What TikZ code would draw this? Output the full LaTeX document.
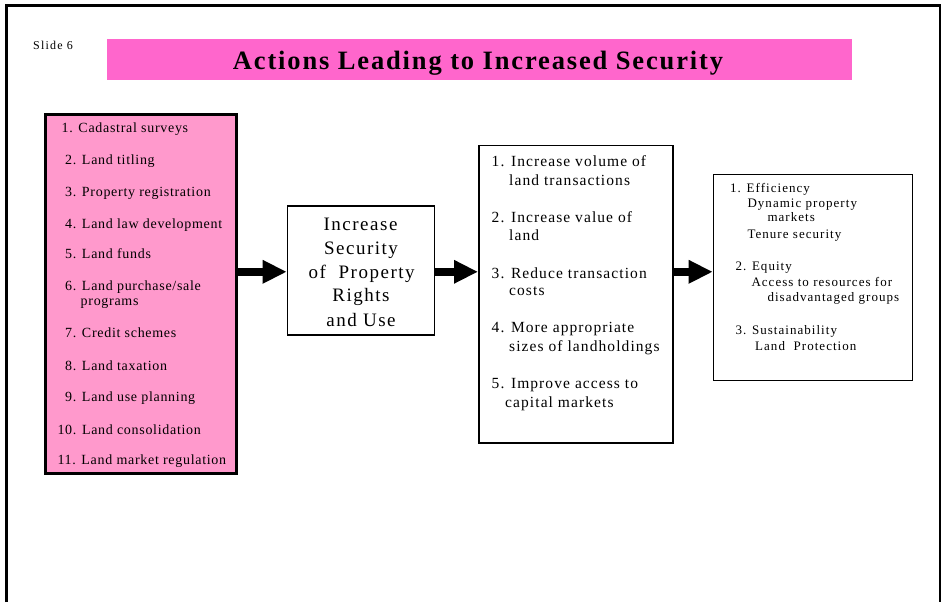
\documentclass[tikz,border=0pt]{standalone}
\usepackage{fontspec}
\setmainfont{Liberation Serif}
\newfontfamily\lsfont[LetterSpace=5]{Liberation Serif}
\newfontfamily\lsBfont[LetterSpace=7]{Liberation Serif}
\newfontfamily\lsCfont[LetterSpace=8]{Liberation Serif}
\newfontfamily\slidefont[LetterSpace=10]{Liberation Serif}
\newfontfamily\titlefont[LetterSpace=7]{Liberation Serif}
\usetikzlibrary{arrows.meta}
\definecolor{titlepink}{HTML}{FF66CC}
\definecolor{boxpink}{HTML}{FF99CC}
\tikzset{
  box/.style={draw=black, line width=1.6pt, fill=white, inner sep=0pt},
  listbox/.style={draw=black, line width=3.5pt, fill=boxpink, inner sep=0pt},
  bigarrow/.style={line width=8pt, -{Triangle[length=24pt,width=22pt]}},
  itemA/.style={inner sep=0pt, anchor=base west, font=\lsfont\fontsize{14}{16}\selectfont},
  itemB/.style={inner sep=0pt, anchor=base west, font=\lsBfont\fontsize{15.5}{17}\selectfont},
  itemC/.style={inner sep=0pt, anchor=base west, font=\lsCfont\fontsize{13}{15}\selectfont},
  midtxt/.style={inner sep=0pt, anchor=base, font=\lsCfont\fontsize{19}{21}\selectfont},
}
\begin{document}
\begin{tikzpicture}[x=1pt,y=-1pt]
\useasboundingbox (0,0) rectangle (941,602);
\fill[white] (0,0) rectangle (941,602);
% outer frame
\draw[line width=3pt] (6,602) -- (6,6) -- (940,6) -- (940,602);
% title
\node[fill=titlepink, minimum width=745pt, minimum height=41pt, inner sep=0pt] (bar) at (479.5,59.5) {};
\node[inner sep=0pt, anchor=base, font=\titlefont\fontsize{26.5}{28}\selectfont\bfseries] (title) at (478,69.5) {Actions Leading to Increased Security};
\node[inner sep=0pt, anchor=base west, font=\slidefont\fontsize{12}{14}\selectfont] (slide) at (33,49.5) {Slide 6};
% boxes
\node[listbox, minimum width=191pt, minimum height=359pt] (acts) at (141,293.8) {};
\node[box, minimum width=147pt, minimum height=129pt] (mid) at (361,270.7) {};
\node[box, minimum width=194pt, minimum height=297.5pt] (outc) at (575.8,294.3) {};
\node[box, minimum width=199pt, minimum height=206pt] (goal) at (813,277.5) {};
% arrows
\draw[bigarrow] (acts.east |- 0,271.8) -- (mid.west |- 0,271.8);
\draw[bigarrow] (mid.east |- 0,271.8) -- (outc.west |- 0,271.8);
\draw[bigarrow] (outc.east |- 0,271.8) -- (goal.west |- 0,271.8);
% left list
\node[itemA] (a1) at (61.5,132.3) {1. Cadastral surveys};
\node[itemA] (a2) at (65,164) {2. Land titling};
\node[itemA] (a3) at (65,196) {3. Property registration};
\node[itemA] (a4) at (65,228) {4. Land law development};
\node[itemA] (a5) at (65,258) {5. Land funds};
\node[itemA] (a6) at (65,290) {6. Land purchase/sale};
\node[itemA] (a6b) at (80.5,305) {programs};
\node[itemA] (a7) at (65,337.7) {7. Credit schemes};
\node[itemA] (a8) at (65,370) {8. Land taxation};
\node[itemA] (a9) at (65,401.7) {9. Land use planning};
\node[itemA] (a10) at (57.3,434) {10. Land consolidation};
\node[itemA] (a11) at (57.3,464) {11. Land market regulation};
% middle text
\node[midtxt] (m1) at (360.5,230) {Increase};
\node[midtxt] (m2) at (361,254) {Security};
\node[midtxt] (m3) at (361.7,278.3) {of\ \ Property};
\node[midtxt] (m4) at (361,301.7) {Rights};
\node[midtxt] (m5) at (361,326) {and Use};
% third box
\node[itemB] (b1) at (491.5,166) {1. Increase volume of};
\node[itemB] (b1b) at (509,185.5) {land transactions};
\node[itemB] (b2) at (491.5,222.3) {2. Increase value of};
\node[itemB] (b2b) at (509,240) {land};
\node[itemB] (b3) at (491.5,278.3) {3. Reduce transaction};
\node[itemB] (b3b) at (509,295.7) {costs};
\node[itemB] (b4) at (491.5,332.3) {4. More appropriate};
\node[itemB] (b4b) at (509,351.7) {sizes of landholdings};
\node[itemB] (b5) at (491.5,388.3) {5. Improve access to};
\node[itemB] (b5b) at (505,407.3) {capital markets};
% fourth box
\node[itemC] (c1) at (730,192.3) {1. Efficiency};
\node[itemC] (c1a) at (747.3,207.3) {Dynamic property};
\node[itemC] (c1b) at (767.3,221.7) {markets};
\node[itemC] (c1c) at (747.3,238.3) {Tenure security};
\node[itemC] (c2) at (735.3,270) {2. Equity};
\node[itemC] (c2a) at (751.3,286) {Access to resources for};
\node[itemC] (c2b) at (767.3,301.7) {disadvantaged groups};
\node[itemC] (c3) at (735.3,334) {3. Sustainability};
\node[itemC] (c3a) at (755,350) {Land\ \ Protection};
\end{tikzpicture}
\end{document}
